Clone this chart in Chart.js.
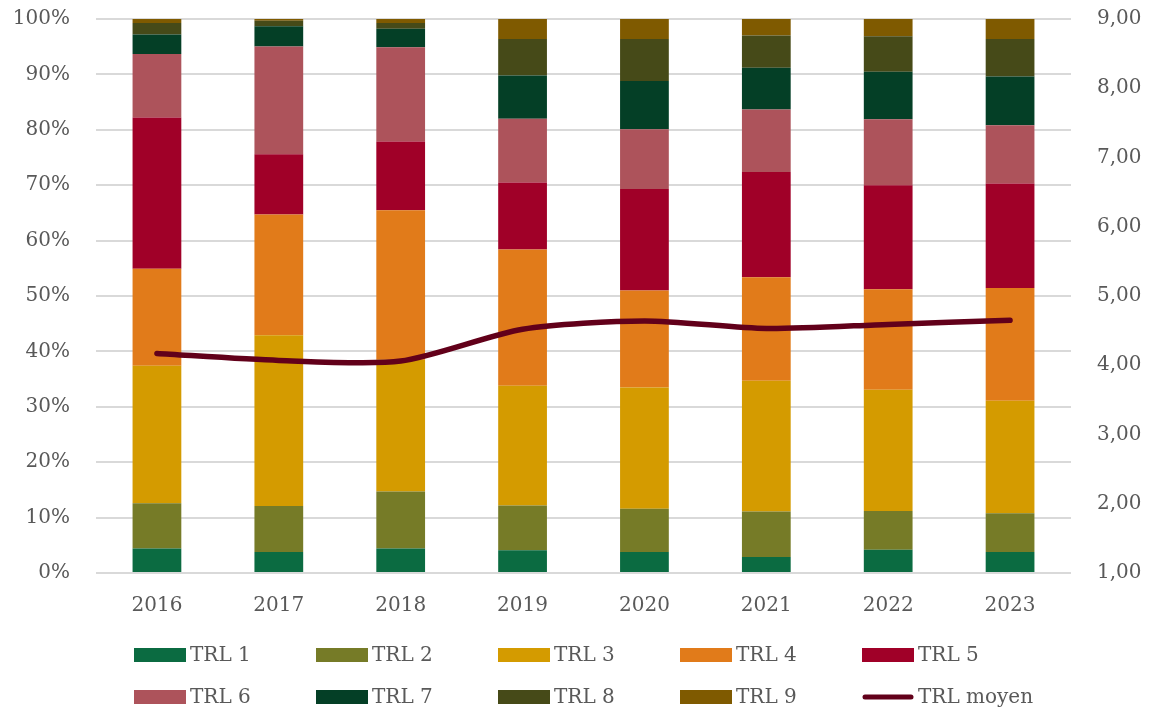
<!DOCTYPE html>
<html>
<head>
<meta charset="utf-8">
<script src="https://cdn.jsdelivr.net/npm/chart.js@4"></script>
<style>
  body { margin: 0; background: #fff; }
  #wrap { width: 1154px; height: 716px; }
</style>
</head>
<body>
<div id="wrap"><canvas id="chart" width="1154" height="716"></canvas></div>
<script>
// years and share of projects per TRL level (%)
const years = ["2016", "2017", "2018", "2019", "2020", "2021", "2022", "2023"];

const trl1 = [4.4, 3.8, 4.4, 4.1, 3.8, 2.9, 4.2, 3.8];
const trl2 = [8.2, 8.3, 10.3, 8.1, 7.8, 8.2, 7.0, 7.0];
const trl3 = [24.8, 30.8, 23.8, 21.6, 21.9, 23.6, 21.9, 20.3];
const trl4 = [17.5, 21.8, 27.0, 24.6, 17.5, 18.7, 18.1, 20.35];
const trl5 = [27.3, 10.9, 12.4, 12.1, 18.3, 19.0, 18.8, 18.85];
const trl6 = [11.5, 19.45, 17.0, 11.5, 10.8, 11.25, 11.9, 10.5];
const trl7 = [3.5, 3.65, 3.35, 7.8, 8.7, 7.55, 8.6, 8.8];
const trl8 = [2.1, 1.0, 1.05, 6.6, 7.6, 5.8, 6.4, 6.8];
const trl9 = [0.7, 0.3, 0.7, 3.6, 3.6, 3.0, 3.1, 3.6];

// average TRL (right axis)
const trlMoyen = [4.17, 4.07, 4.06, 4.52, 4.64, 4.53, 4.59, 4.65];

const leftTicks = [0, 10, 20, 30, 40, 50, 60, 70, 80, 90, 100];
const rightTicks = [1, 2, 3, 4, 5, 6, 7, 8, 9];

const FONT = "'DejaVu Serif', serif";
const TEXT = "#595959";

const barSeries = [
  { label: "TRL 1", data: trl1, color: "#0b6b41" },
  { label: "TRL 2", data: trl2, color: "#767b27" },
  { label: "TRL 3", data: trl3, color: "#d49b00" },
  { label: "TRL 4", data: trl4, color: "#e17b1a" },
  { label: "TRL 5", data: trl5, color: "#a00028" },
  { label: "TRL 6", data: trl6, color: "#ad535b" },
  { label: "TRL 7", data: trl7, color: "#043f26" },
  { label: "TRL 8", data: trl8, color: "#464a18" },
  { label: "TRL 9", data: trl9, color: "#7f5a00" },
];

const datasets = barSeries.map((s) => ({
  type: "bar",
  label: s.label,
  data: s.data,
  backgroundColor: s.color,
  borderWidth: 0,
  yAxisID: "y",
  order: 1,
  categoryPercentage: 1,
  barPercentage: 0.4,
}));

datasets.push({
  type: "line",
  label: "TRL moyen",
  data: trlMoyen,
  borderColor: "#62001a",
  backgroundColor: "#62001a",
  borderWidth: 5.5,
  pointRadius: 0,
  tension: 0.25,
  borderCapStyle: "round",
  yAxisID: "y1",
  order: 0,
});

// legend drawn as a 5-column grid below the chart
const gridLegend = {
  id: "gridLegend",
  afterDraw(chart) {
    const ctx = chart.ctx;
    ctx.save();
    ctx.font = "20px " + FONT;
    ctx.textBaseline = "middle";
    chart.data.datasets.forEach((ds, i) => {
      const col = i % 5;
      const row = Math.floor(i / 5);
      const x = 134 + col * 182;
      const y = 655 + row * 42;
      if (ds.type === "line") {
        ctx.strokeStyle = ds.borderColor;
        ctx.lineWidth = 5;
        ctx.lineCap = "round";
        ctx.beginPath();
        ctx.moveTo(x + 3, y);
        ctx.lineTo(x + 49, y);
        ctx.stroke();
      } else {
        ctx.fillStyle = ds.backgroundColor;
        ctx.fillRect(x, y - 7, 52, 14);
      }
      ctx.fillStyle = TEXT;
      ctx.fillText(ds.label, x + 56, y + 1);
    });
    ctx.restore();
  },
};

// no extra vertical padding from the value axes
const noPad = (w) => (axis) => {
  axis.width = w;
  axis.paddingTop = 0;
  axis.paddingBottom = 0;
};

new Chart(document.getElementById("chart"), {
  data: { labels: years, datasets: datasets },
  plugins: [gridLegend],
  options: {
    responsive: false,
    animation: false,
    layout: { autoPadding: false, padding: { left: 12, right: 0, top: 19, bottom: 99 } },
    plugins: {
      legend: { display: false },
      tooltip: { enabled: false },
    },
    scales: {
      x: {
        stacked: true,
        grid: { display: false },
        border: { display: false },
        afterFit: (axis) => { axis.height = 44; axis.paddingLeft = 0; axis.paddingRight = 0; },
        ticks: { color: TEXT, font: { family: FONT, size: 20 }, padding: 13 },
      },
      y: {
        stacked: true,
        min: 0,
        max: 100,
        afterBuildTicks: (axis) => { axis.ticks = leftTicks.map((v) => ({ value: v })); },
        afterFit: noPad(84),
        grid: { color: "#d9d9d9", lineWidth: 2, drawTicks: false },
        border: { display: false },
        ticks: {
          color: TEXT,
          font: { family: FONT, size: 20 },
          padding: 26,
          callback: (v) => v + "%",
        },
      },
      y1: {
        position: "right",
        min: 1,
        max: 9,
        afterBuildTicks: (axis) => { axis.ticks = rightTicks.map((v) => ({ value: v })); },
        afterFit: noPad(83),
        grid: { display: false, drawTicks: false },
        border: { display: false },
        ticks: {
          color: TEXT,
          font: { family: FONT, size: 20 },
          padding: 26,
          callback: (v) => v.toFixed(2).replace(".", ","),
        },
      },
    },
  },
});
</script>
</body>
</html>
